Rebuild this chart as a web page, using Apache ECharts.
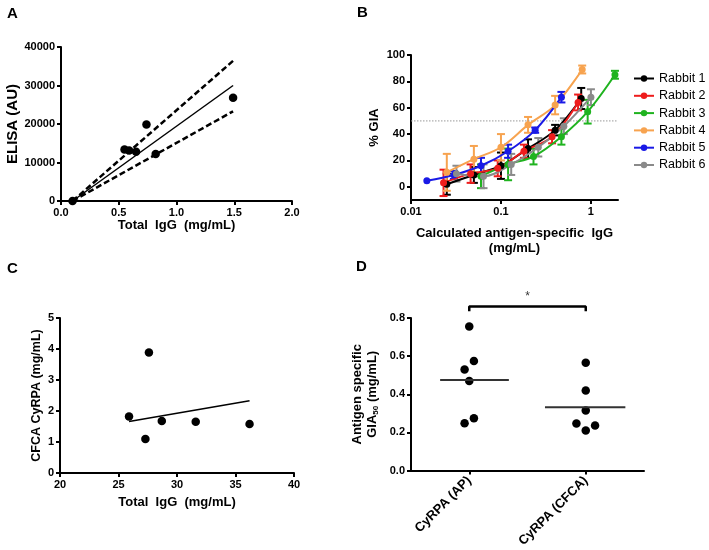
<!DOCTYPE html>
<html><head><meta charset="utf-8">
<script src="https://cdn.jsdelivr.net/npm/echarts@6/dist/echarts.min.js"></script>
<style>html,body{margin:0;padding:0;background:#fff}#c{width:709px;height:550px}</style>
</head><body><div id="c"></div>
<script>
// ---------- Panel A ----------
const aTotalIgG = [0.1, 0.55, 0.59, 0.65, 0.74, 0.82, 1.49];
const aElisa = [0, 13400, 13100, 12800, 19900, 12200, 26800];
const aFitX = [0.1, 1.49];
const aFitY = [0, 30000];
const aUpperY = [0, 36400];
const aLowerY = [0, 23300];

// ---------- Panel B ----------
const rabbitNames = ['Rabbit 1', 'Rabbit 2', 'Rabbit 3', 'Rabbit 4', 'Rabbit 5', 'Rabbit 6'];
const rabbit1X = [0.025, 0.05, 0.1, 0.2, 0.4, 0.78];
const rabbit1Y = [2, 9, 16, 29, 43, 67];
const rabbit1Err = [8, 6, 10, 7, 4, 8];
const rabbit2X = [0.023, 0.046, 0.092, 0.18, 0.37, 0.72];
const rabbit2Y = [3, 10, 14, 27, 38, 64];
const rabbit2Err = [10, 7, 6, 5, 5, 6];
const rabbit3X = [0.06, 0.12, 0.23, 0.47, 0.92, 1.85];
const rabbit3Y = [8, 17, 23, 38, 57, 85];
const rabbit3Err = [9, 12, 6, 6, 9, 3];
const rabbit4X = [0.025, 0.05, 0.1, 0.2, 0.4, 0.8];
const rabbit4Y = [11, 21, 30, 47, 62, 89];
const rabbit4Err = [14, 10, 10, 6, 7, 3];
const rabbit5X = [0.015, 0.03, 0.06, 0.12, 0.24, 0.47];
const rabbit5Y = [4.6, 9, 16, 27, 43, 68];
const rabbit5Err = [0, 3, 6, 5, 2, 4];
const rabbit6X = [0.032, 0.064, 0.13, 0.26, 0.5, 1.0];
const rabbit6Y = [10, 8, 17, 30, 46, 68];
const rabbit6Err = [6, 9, 8, 7, 6, 6];
const bXTicks = [0.01, 0.1, 1];
const bYTicks = [0, 20, 40, 60, 80, 100];
const bGia50 = 50;

// ---------- Panel C ----------
const cTotalIgG = [25.9, 27.3, 27.6, 28.7, 31.6, 36.2];
const cCfcaCyrpa = [1.82, 1.10, 3.89, 1.68, 1.65, 1.58];
const cFitX = [25.9, 36.2];
const cFitY = [1.66, 2.33];

// ---------- Panel D ----------
const dCategories = ['CyRPA (AP)', 'CyRPA (CFCA)'];
const dAP = [0.755, 0.575, 0.53, 0.47, 0.275, 0.248];
const dAPJitter = [0, 0.04, -0.04, 0, 0.04, -0.04];
const dCFCA = [0.565, 0.42, 0.315, 0.247, 0.21, 0.237];
const dCFCAJitter = [0, 0, 0, -0.08, 0, 0.08];

const rabbitX = [rabbit1X, rabbit2X, rabbit3X, rabbit4X, rabbit5X, rabbit6X];
const rabbitY = [rabbit1Y, rabbit2Y, rabbit3Y, rabbit4Y, rabbit5Y, rabbit6Y];
const rabbitErr = [rabbit1Err, rabbit2Err, rabbit3Err, rabbit4Err, rabbit5Err, rabbit6Err];
const rabbitColors = ['#000000', '#ee1c1c', '#1fb31f', '#f7a34f', '#1a1ae6', '#8a8a8a'];

const FONT = 'Liberation Sans, Arial, Helvetica, sans-serif';
const zip = (xs, ys) => xs.map((x, i) => [x, ys[i]]);
const mean = a => a.reduce((s, v) => s + v, 0) / a.length;

function ax(extra) {
  const base = {
    axisLine: { show: true, onZero: false, lineStyle: { color: '#000', width: 2 } },
    axisTick: { show: true, length: 4, lineStyle: { color: '#000', width: 2 } },
    axisLabel: { color: '#000', fontWeight: 'bold', fontSize: 11, margin: 6, fontFamily: FONT, formatter: v => String(v) },
    splitLine: { show: false },
    nameLocation: 'middle',
    nameTextStyle: { color: '#000', fontWeight: 'bold', fontSize: 13, fontFamily: FONT }
  };
  for (const k in extra) {
    if (base[k] && typeof base[k] === 'object' && !Array.isArray(extra[k]) && typeof extra[k] === 'object') {
      base[k] = Object.assign({}, base[k], extra[k]);
    } else base[k] = extra[k];
  }
  return base;
}

const dot = { color: '#000', opacity: 1 };
const series = [];
// A
series.push({ type: 'line', xAxisIndex: 0, yAxisIndex: 0, data: zip(aFitX, aUpperY), symbol: 'none', silent: true,
  lineStyle: { color: '#000', width: 2.5, type: [6, 3] } });
series.push({ type: 'line', xAxisIndex: 0, yAxisIndex: 0, data: zip(aFitX, aLowerY), symbol: 'none', silent: true,
  lineStyle: { color: '#000', width: 2.5, type: [6, 3] } });
series.push({ type: 'line', xAxisIndex: 0, yAxisIndex: 0, data: zip(aFitX, aFitY), symbol: 'none', silent: true,
  lineStyle: { color: '#000', width: 1.5 } });
series.push({ type: 'scatter', xAxisIndex: 0, yAxisIndex: 0, data: zip(aTotalIgG, aElisa), symbolSize: 8.5,
  itemStyle: dot, clip: false });

// B reference line
series.push({ type: 'line', xAxisIndex: 1, yAxisIndex: 1, data: [[0.01, bGia50], [2, bGia50]], symbol: 'none', silent: true,
  lineStyle: { color: '#999', width: 1, type: [1.5, 1.5] } });

// B rabbits
rabbitNames.forEach((name, i) => {
  const color = rabbitColors[i];
  series.push({
    type: 'custom', name: 'err' + i, xAxisIndex: 1, yAxisIndex: 1,
    data: rabbitX[i].map((x, j) => [x, rabbitY[i][j], rabbitErr[i][j]]),
    encode: { x: 0, y: 1 },
    renderItem: function (params, api) {
      const x = api.value(0), y = api.value(1), e = api.value(2);
      if (!e) return null;
      const t = api.coord([x, y + e]);
      const b = api.coord([x, y - e]);
      const hw = 4;
      const st = { stroke: color, lineWidth: 2 };
      return { type: 'group', children: [
        { type: 'line', shape: { x1: t[0], y1: t[1], x2: b[0], y2: b[1] }, style: st },
        { type: 'line', shape: { x1: t[0] - hw, y1: t[1], x2: t[0] + hw, y2: t[1] }, style: st },
        { type: 'line', shape: { x1: b[0] - hw, y1: b[1], x2: b[0] + hw, y2: b[1] }, style: st }
      ]};
    },
    silent: true
  });
  series.push({
    type: 'line', name: name, xAxisIndex: 1, yAxisIndex: 1,
    data: zip(rabbitX[i], rabbitY[i]), smooth: 0.35,
    symbol: 'circle', symbolSize: 7, showSymbol: true,
    itemStyle: { color: color }, lineStyle: { color: color, width: 2 }
  });
});

// C
series.push({ type: 'line', xAxisIndex: 2, yAxisIndex: 2, data: zip(cFitX, cFitY), symbol: 'none', silent: true,
  lineStyle: { color: '#000', width: 1.5 } });
series.push({ type: 'scatter', xAxisIndex: 2, yAxisIndex: 2, data: zip(cTotalIgG, cCfcaCyrpa), symbolSize: 8.5,
  itemStyle: dot });

// D
const apMean = mean(dAP), cfMean = mean(dCFCA);
series.push({ type: 'line', xAxisIndex: 4, yAxisIndex: 3, data: [[0 - 0.25, apMean], [0 + 0.34, apMean]], symbol: 'none',
  silent: true, lineStyle: { color: '#333', width: 2 } });
series.push({ type: 'line', xAxisIndex: 4, yAxisIndex: 3, data: [[1 - 0.35, cfMean], [1 + 0.34, cfMean]], symbol: 'none',
  silent: true, lineStyle: { color: '#333', width: 2 } });
series.push({ type: 'scatter', xAxisIndex: 4, yAxisIndex: 3, data: dAP.map((v, i) => [0 + dAPJitter[i], v]), symbolSize: 8.5,
  itemStyle: dot });
series.push({ type: 'scatter', xAxisIndex: 4, yAxisIndex: 3, data: dCFCA.map((v, i) => [1 + dCFCAJitter[i], v]), symbolSize: 8.5,
  itemStyle: dot });
// significance bracket
series.push({ type: 'line', xAxisIndex: 4, yAxisIndex: 3, data: [[0, 0.835], [0, 0.86], [1, 0.86], [1, 0.835]], symbol: 'none',
  clip: false, silent: true, lineStyle: { color: '#000', width: 2.5 } });
series.push({ type: 'scatter', xAxisIndex: 4, yAxisIndex: 3, data: [[0.5, 0.91]], symbolSize: 0, clip: false, silent: true,
  label: { show: true, formatter: '*', position: 'inside', color: '#000', fontSize: 12, fontFamily: FONT } });

const letter = { fontSize: 15, fontWeight: 'bold', color: '#000', fontFamily: FONT };
const option = {
  animation: false,
  textStyle: { fontFamily: FONT },
  title: [
    { text: 'A', left: 7, top: 6, padding: 0, textStyle: letter },
    { text: 'B', left: 357, top: 5, padding: 0, textStyle: letter },
    { text: 'C', left: 7, top: 261, padding: 0, textStyle: letter },
    { text: 'D', left: 356, top: 259, padding: 0, textStyle: letter }
  ],
  legend: {
    data: rabbitNames, orient: 'vertical', left: 633, top: 72, padding: 0,
    itemWidth: 20, itemHeight: 8, itemGap: 4.3,
    textStyle: { fontSize: 12.5, color: '#000', fontFamily: FONT }
  },
  grid: [
    { left: 61, top: 47, width: 231, height: 154 },
    { left: 411, top: 55, width: 207, height: 145 },
    { left: 60, top: 318, width: 234, height: 155 },
    { left: 411, top: 318, width: 233, height: 155 }
  ],
  xAxis: [
    ax({ gridIndex: 0, type: 'value', min: 0, max: 2, interval: 0.5, name: 'Total  IgG  (mg/mL)', nameGap: 16,
      axisLabel: { formatter: v => v.toFixed(1) } }),
    ax({ gridIndex: 1, type: 'log', logBase: 10, min: 0.01, max: 2,
      name: 'Calculated antigen-specific  IgG\n(mg/mL)', nameGap: 26,
      nameTextStyle: { lineHeight: 15 },
      axisTick: { customValues: bXTicks },
      axisLabel: { customValues: bXTicks, formatter: v => String(+(+v).toPrecision(2)) },
      minorTick: { show: false } }),
    ax({ gridIndex: 2, type: 'value', min: 20, max: 40, interval: 5, name: 'Total  IgG  (mg/mL)', nameGap: 23 }),
    ax({ gridIndex: 3, type: 'category', data: dCategories, boundaryGap: true,
      axisTick: { alignWithLabel: true },
      axisLabel: { rotate: 45, fontSize: 13, margin: 8, formatter: v => v } }),
    { gridIndex: 3, type: 'value', min: -0.5, max: 1.5, show: false }
  ],
  yAxis: [
    ax({ gridIndex: 0, type: 'value', min: 0, max: 40000, interval: 10000, name: 'ELISA (AU)', nameGap: 37,
      nameTextStyle: { fontSize: 15 } }),
    ax({ gridIndex: 1, type: 'value', min: -10, max: 100, name: '% GIA', nameGap: 30,
      axisTick: { customValues: bYTicks }, axisLabel: { customValues: bYTicks } }),
    ax({ gridIndex: 2, type: 'value', min: 0, max: 5, interval: 1, name: 'CFCA CyRPA (mg/mL)', nameGap: 17,
      nameTextStyle: { fontSize: 12.5 } }),
    ax({ gridIndex: 3, type: 'value', min: 0, max: 0.8, interval: 0.2, nameGap: 31,
      name: '{a|Antigen specific}\n{a|GIA}{s|50}{a| (mg/mL)}',
      nameTextStyle: { lineHeight: 15, rich: {
        a: { fontSize: 13, fontWeight: 'bold', color: '#000', fontFamily: FONT },
        s: { fontSize: 8, fontWeight: 'bold', color: '#000', fontFamily: FONT, verticalAlign: 'bottom', padding: [6, 0, 0, 0] }
      } },
      axisLabel: { formatter: v => v.toFixed(1) } })
  ],
  series: series
};

const chart = echarts.init(document.getElementById('c'), null, { renderer: 'canvas' });
chart.setOption(option);
</script>
</body></html>
